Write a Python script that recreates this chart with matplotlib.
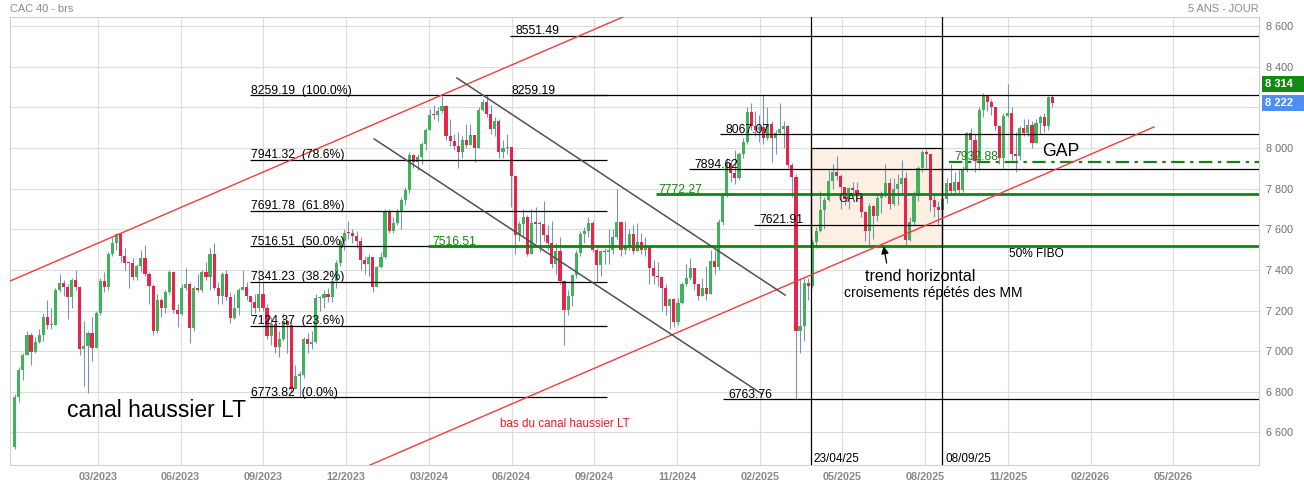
import matplotlib
matplotlib.use("Agg")
import matplotlib.pyplot as plt
from matplotlib.patches import Rectangle
from matplotlib.ticker import FuncFormatter
import matplotlib.transforms as mtransforms
import numpy as np

plt.rcParams["font.family"] = ["Liberation Sans", "DejaVu Sans"]

# CAC 40, one candle per 3 sessions (session 0 = 02/01/2023)
first_open = 6530
closes = [
    6776, 6907, 6980, 7080, 6996, 7045, 7080, 7166, 7130, 7130, 7300, 7335, 7317, 7267, 7348, 7315,
    7011, 7025, 7088, 7015, 7187, 7346, 7316, 7480, 7533, 7577, 7469, 7435, 7433, 7367, 7418, 7460,
    7378, 7320, 7098, 7250, 7212, 7290, 7389, 7203, 7183, 7312, 7330, 7112, 7310, 7303, 7389, 7365,
    7477, 7313, 7270, 7379, 7267, 7164, 7213, 7300, 7316, 7269, 7240, 7214, 7280, 7214, 7074, 7135,
    7021, 7060, 7150, 7130, 6816, 6880, 6885, 7060, 7034, 7045, 7260, 7260, 7280, 7267, 7346, 7435,
    7544, 7582, 7580, 7569, 7543, 7450, 7427, 7465, 7316, 7413, 7464, 7690, 7592, 7630, 7689, 7743,
    7795, 7966, 7930, 7956, 8017, 8087, 8164, 8161, 8184, 8205, 8061, 8035, 8010, 7981, 8040, 8016,
    8065, 8000, 8187, 8225, 8167, 8092, 8132, 7979, 7999, 8002, 7864, 7570, 7628, 7662, 7479, 7632,
    7628, 7627, 7570, 7534, 7427, 7491, 7346, 7204, 7269, 7374, 7483, 7577, 7590, 7630, 7500, 7426,
    7493, 7487, 7500, 7560, 7636, 7500, 7513, 7577, 7491, 7535, 7497, 7511, 7409, 7370, 7365, 7311,
    7220, 7255, 7143, 7236, 7330, 7360, 7409, 7330, 7272, 7313, 7282, 7445, 7413, 7634, 7770, 7927,
    7876, 7854, 7970, 8029, 8178, 8110, 8090, 8101, 8047, 8120, 8050, 8073, 8094, 8108, 7916, 7858,
    7100, 7125, 7335, 7320, 7536, 7593, 7696, 7743, 7836, 7883, 7864, 7810, 7751, 7801, 7791, 7765,
    7683, 7590, 7715, 7665, 7756, 7766, 7829, 7722, 7798, 7820, 7850, 7546, 7635, 7763, 7900, 7980,
    7970, 7745, 7707, 7696, 7750, 7826, 7786, 7830, 7795, 7895, 8071, 8040, 7934, 8188, 8258, 8225,
    8200, 8109, 7950, 8156, 8170, 7970, 7960, 8100, 8074, 8114, 8022, 8124, 8150, 8110, 8250, 8222,
]
highs = [
    6790, 6920, 6990, 7100, 7090, 7070, 7110, 7190, 7250, 7210, 7310, 7380, 7350, 7330, 7360, 7400,
    7320, 7150, 7100, 7170, 7200, 7360, 7390, 7490, 7560, 7582, 7580, 7510, 7440, 7460, 7430, 7500,
    7520, 7390, 7330, 7280, 7260, 7300, 7400, 7390, 7230, 7330, 7410, 7340, 7320, 7380, 7400, 7440,
    7510, 7530, 7340, 7390, 7400, 7290, 7280, 7310, 7400, 7340, 7270, 7280, 7400, 7340, 7230, 7170,
    7140, 7100, 7190, 7150, 7140, 6930, 6900, 7070, 7090, 7100, 7280, 7270, 7300, 7310, 7360, 7450,
    7550, 7600, 7640, 7600, 7590, 7560, 7470, 7480, 7460, 7420, 7490, 7700, 7700, 7660, 7700, 7760,
    7810, 7980, 7970, 7970, 8030, 8100, 8190, 8210, 8200, 8254, 8210, 8140, 8070, 8080, 8060, 8120,
    8120, 8060, 8200, 8240, 8259, 8210, 8150, 8140, 8040, 8070, 8005, 7730, 7640, 7700, 7670, 7700,
    7710, 7640, 7740, 7620, 7640, 7530, 7560, 7350, 7300, 7380, 7500, 7590, 7610, 7660, 7640, 7510,
    7500, 7510, 7600, 7600, 7800, 7640, 7640, 7600, 7620, 7630, 7580, 7560, 7520, 7450, 7440, 7370,
    7330, 7260, 7260, 7260, 7340, 7430, 7460, 7410, 7330, 7360, 7420, 7500, 7500, 7650, 7780, 7950,
    7940, 7990, 7980, 8050, 8200, 8220, 8180, 8160, 8260, 8200, 8130, 8090, 8220, 8130, 8115, 7925,
    7870, 7360, 7360, 7360, 7550, 7610, 7790, 7760, 7890, 7920, 7960, 7870, 7810, 7810, 7830, 7830,
    7770, 7690, 7730, 7720, 7780, 7790, 7920, 7850, 7850, 7870, 7940, 7880, 7660, 7790, 7910, 7990,
    7995, 7970, 7780, 7740, 7760, 7850, 7920, 7880, 7890, 7910, 8080, 8100, 8070, 8200, 8271, 8260,
    8240, 8200, 8115, 8170, 8314, 8200, 8080, 8110, 8140, 8140, 8130, 8140, 8160, 8170, 8255, 8260,
]
lows = [
    6520, 6750, 6860, 6990, 6930, 6990, 7040, 7050, 7110, 7110, 7130, 7290, 7270, 7160, 7210, 7300,
    6980, 6830, 6795, 6950, 7030, 7180, 7290, 7300, 7470, 7500, 7440, 7400, 7310, 7350, 7350, 7390,
    7370, 7230, 7080, 7090, 7170, 7190, 7280, 7190, 7120, 7180, 7300, 7040, 7100, 7290, 7290, 7350,
    7300, 7300, 7230, 7230, 7250, 7140, 7160, 7180, 7300, 7250, 7180, 7190, 7200, 7200, 7060, 7030,
    6990, 6970, 7050, 6990, 6800, 6820, 6774, 6870, 6990, 7010, 7040, 7200, 7210, 7240, 7240, 7310,
    7420, 7500, 7550, 7530, 7510, 7400, 7380, 7370, 7290, 7320, 7410, 7460, 7580, 7580, 7620, 7600,
    7720, 7780, 7900, 7890, 7920, 7990, 8090, 8140, 8130, 8170, 8040, 8010, 7990, 7900, 7950, 8000,
    8030, 7930, 8000, 8180, 8150, 8070, 8060, 7950, 7950, 7970, 7710, 7480, 7540, 7560, 7470, 7500,
    7530, 7490, 7540, 7500, 7410, 7380, 7330, 7030, 7180, 7220, 7360, 7470, 7530, 7560, 7490, 7340,
    7370, 7430, 7430, 7480, 7550, 7470, 7480, 7500, 7480, 7500, 7480, 7470, 7330, 7330, 7320, 7200,
    7180, 7110, 7120, 7130, 7230, 7320, 7350, 7300, 7250, 7270, 7250, 7280, 7380, 7400, 7620, 7760,
    7830, 7820, 7840, 7950, 8020, 8090, 8060, 8030, 8020, 8040, 7930, 7970, 8070, 8000, 7900, 7760,
    6764, 6990, 7050, 7250, 7310, 7510, 7585, 7600, 7740, 7800, 7840, 7700, 7720, 7700, 7760, 7740,
    7660, 7540, 7520, 7550, 7640, 7680, 7760, 7700, 7715, 7720, 7780, 7520, 7540, 7620, 7740, 7880,
    7900, 7690, 7660, 7620, 7650, 7730, 7770, 7780, 7780, 7785, 7880, 7940, 7880, 7890, 8150, 8180,
    8160, 8090, 7920, 7900, 8150, 7940, 7880, 7940, 8060, 8060, 8000, 8040, 8070, 8080, 8090, 8200,
]
bar_sessions = 3

month_labels = ["03/2023", "06/2023", "09/2023", "12/2023", "03/2024", "06/2024", "09/2024",
                "11/2024", "02/2025", "05/2025", "08/2025", "11/2025", "02/2026", "05/2026"]
price_ticks = [6600, 6800, 7000, 7200, 7400, 7600, 7800, 8000, 8200, 8400, 8600]

fibo_levels = [8259.19, 7941.32, 7691.78, 7516.51, 7341.23, 7124.37, 6773.82]
fibo_pcts = ["100.0%", "78.6%", "61.8%", "50.0%", "38.2%", "23.6%", "0.0%"]
black_levels = [8551.49, 8259.19, 8067.07, 7894.62, 7621.91, 6763.76]
green_levels = [7516.51, 7772.27]
gap_level = 7932.88
gap_box_top = 8000
event_sessions = [588, 685]
event_labels = ["23/04/25", "08/09/25"]

# trend lines: (session, price) anchors
upper_channel = ([-2.5, 449.5], [7345, 8644])
lower_channel = ([263, 841], [6440, 8103])
down_upper = ([327, 569], [8344, 7276])
down_lower = ([266, 552], [8044, 6789])

GREEN = "#41b25c"
RED = "#e8244b"
WICK = "#7b93b0"
DARK_GREEN = "#0f870f"

fig = plt.figure(figsize=(13.04, 4.86), dpi=100)
ax = fig.add_axes([10 / 1304, 21 / 486, 1249 / 1304, 448 / 486])
ax.set_xlim(-2.5, 918.4)
ax.set_ylim(6440, 8644)

# candles
c = np.array(closes, dtype=float)
o = np.concatenate([[first_open], c[:-1]])
h = np.array(highs, dtype=float)
l = np.array(lows, dtype=float)
x = np.arange(len(c)) * bar_sessions + 1
up = c >= o
ax.vlines(x, np.minimum(l, np.minimum(o, c)), np.maximum(h, np.maximum(o, c)),
          color=WICK, lw=0.8, zorder=2)
body_lo = np.minimum(o, c)
body_h = np.maximum(np.abs(c - o), 6)
ax.bar(x, body_h, bottom=body_lo, width=2.3, color=np.where(up, GREEN, RED),
       linewidth=0, zorder=2.5)

# gap box
ax.add_patch(Rectangle((event_sessions[0], green_levels[0]), event_sessions[1] - event_sessions[0],
                       gap_box_top - green_levels[0], facecolor="#fdf0e2", edgecolor="none", zorder=1))
ax.add_patch(Rectangle((event_sessions[0], green_levels[0]), event_sessions[1] - event_sessions[0],
                       gap_box_top - green_levels[0], facecolor="none", edgecolor="black", lw=0.9, zorder=3))

# fibonacci retracement
for lev, pct in zip(fibo_levels, fibo_pcts):
    ax.hlines(lev, 174.5, 437.8, color="black", lw=0.9, zorder=3)
    ax.text(175, lev + 8, f"{lev:.2f}  ({pct})", fontsize=8.8, va="baseline", ha="left", zorder=4)

# horizontal levels
black_starts = [366, 367, 521, 498, 546, 523]
black_text_x = [370, 367, 524.8, 502, 550, 527]
for lev, s, tx in zip(black_levels, black_starts, black_text_x):
    ax.hlines(lev, s, 918.4, color="black", lw=0.9, zorder=3)
    ax.text(tx, lev + 8, f"{lev:.2f}", fontsize=8.8, va="baseline", ha="left", zorder=4)

green_starts = [305.8, 474]
green_text_x = [308.7, 475.4]
for lev, s, tx in zip(green_levels, green_starts, green_text_x):
    ax.hlines(lev, s, 918.4, color=DARK_GREEN, lw=2.0, zorder=3)
    ax.text(tx, lev + 8, f"{lev:.2f}", fontsize=8.8, va="baseline", ha="left",
            color=DARK_GREEN, zorder=4)

ax.plot([690, 918.4], [gap_level, gap_level], color=DARK_GREEN, lw=1.6,
        linestyle=(0, (6, 2.5, 1.5, 2.5)), zorder=3)
ax.text(693.7, gap_level + 8, f"{gap_level:.2f}", fontsize=8.8, va="baseline",
        color=DARK_GREEN, zorder=4)

# event verticals
for s, lab in zip(event_sessions, event_labels):
    ax.axvline(s, color="black", lw=0.9, zorder=3)
    ax.text(s + 2, 6470, lab, fontsize=8.5, va="center", ha="left", zorder=4)

# trend lines
ax.plot(*upper_channel, color="#f03c3c", lw=1.0, zorder=3)
ax.plot(*lower_channel, color="#f03c3c", lw=1.0, zorder=3)
ax.plot(*down_upper, color="#505050", lw=1.1, zorder=3)
ax.plot(*down_lower, color="#505050", lw=1.1, zorder=3)

# annotations
ax.text(608, 7749, "GAP", fontsize=8.5, va="center", ha="left", color="#222222", zorder=4)
ax.text(758.6, 7980, "GAP", fontsize=12.7, va="center", ha="left", zorder=4)
ax.text(668.6, 7365, "trend horizontal", fontsize=11.5, va="center", ha="center", zorder=4)
ax.text(678, 7286, "croisements répétés des MM", fontsize=10, va="center", ha="center", zorder=4)
ax.annotate("", xy=(641.3, 7530), xytext=(644.2, 7420),
            arrowprops=dict(arrowstyle="-|>", color="black", lw=0.9, mutation_scale=11), zorder=4)
ax.text(39.5, 6706, "canal haussier LT", fontsize=16.5, va="center", ha="left", zorder=4)
ax.text(358.9, 6642, "bas du canal haussier LT", fontsize=8.4, va="center", ha="left",
        color="#e81e1e", zorder=4)
ax.text(734, 7478, "50% FIBO", fontsize=8.6, va="center", ha="left", zorder=4)

# price badges on the right axis
last_close = closes[-1]
top_high = max(highs)
badges = [(top_high, "#138a13"), (last_close, "#4f8ef5")]


def price_label(v, pos):
    # the badges cover the nearby axis label
    if any(abs(v - b) < 80 for b, _ in badges):
        return ""
    return f"{int(v):,}".replace(",", " ")


# axes styling
ticks_x = 62.3 + 61.0 * np.arange(len(month_labels))
ax.set_xticks(ticks_x)
ax.set_xticklabels(month_labels, fontsize=7.8, color="#8a8a8a", fontweight="bold")
ax.yaxis.tick_right()
ax.set_yticks(price_ticks)
ax.yaxis.set_major_formatter(FuncFormatter(price_label))
ax.tick_params(axis="y", labelsize=7.8, labelcolor="#707070", length=0, pad=5)
ax.tick_params(axis="x", length=0, pad=5)
ax.grid(True, color="#dcdcdc", lw=0.8, zorder=0)
ax.set_axisbelow(True)
for sp in ax.spines.values():
    sp.set_color("#d0d0d0")
    sp.set_linewidth(0.8)

trans = mtransforms.blended_transform_factory(ax.transAxes, ax.transData)
for val, col in badges:
    ax.add_patch(Rectangle((1.0024, val - 39), 0.04, 78, transform=trans, facecolor=col,
                           edgecolor="none", clip_on=False, zorder=5))
    ax.text(1.005, val, f"{val:,}".replace(",", " "), transform=trans, fontsize=8,
            fontweight="bold", color="white", va="center", ha="left", clip_on=False, zorder=6)

fig.text(10 / 1304, 1 - 9 / 486, "CAC 40 - brs", fontsize=7.9, color="#8a8a8a",
         va="center", ha="left")
fig.text(1259 / 1304, 1 - 9 / 486, "5 ANS - JOUR", fontsize=7.9, color="#8a8a8a",
         va="center", ha="right")

fig.savefig("out.png", dpi=100)
